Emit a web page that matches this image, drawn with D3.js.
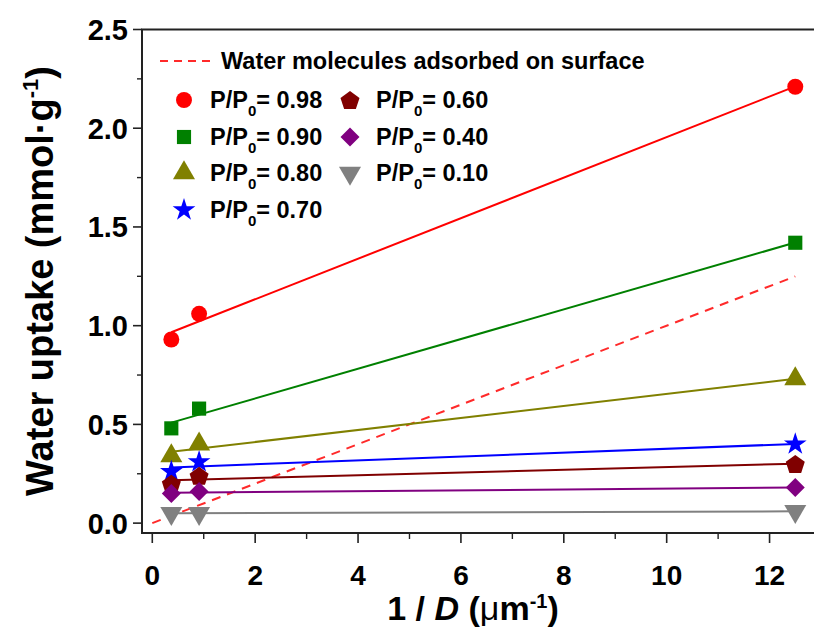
<!DOCTYPE html>
<html><head><meta charset="utf-8">
<script src="https://cdn.jsdelivr.net/npm/d3@7"></script>
<style>
html,body{margin:0;padding:0;background:#fff;}
text{font-family:"Liberation Sans",Arial,sans-serif;font-weight:bold;fill:#000;}
</style></head>
<body>
<svg id="c" width="814" height="628"></svg>
<script>
// ---- data ----
const xValues = [0.37, 0.91, 12.5];
const seriesLabels = ["0.98", "0.90", "0.80", "0.70", "0.60", "0.40", "0.10"];
const s098 = [0.93, 1.06, 2.21];
const s090 = [0.48, 0.58, 1.42];
const s080 = [0.34, 0.40, 0.73];
const s070 = [0.26, 0.31, 0.40];
const s060 = [0.20, 0.24, 0.30];
const s040 = [0.15, 0.16, 0.18];
const s010 = [0.05, 0.05, 0.06];
const surfaceLine = [[0, 0], [12.5, 1.25]];
const xTicks = [0, 2, 4, 6, 8, 10, 12];
const yTicks = [0.0, 0.5, 1.0, 1.5, 2.0, 2.5];

const seriesValues = [s098, s090, s080, s070, s060, s040, s010];
const colors = ["#ff0000", "#008000", "#808000", "#0000ff", "#800000", "#800080", "#808080"];
const shapes = ["circle", "square", "triangle", "star", "pentagon", "diamond", "triangleDown"];

const svg = d3.select("#c");
const x = d3.scaleLinear().domain([-0.2, 13]).range([142, 821]);
const y = d3.scaleLinear().domain([-0.05, 2.5]).range([533, 29.5]);

function symPath(shape) {
  if (shape === "circle") return d3.symbol(d3.symbolCircle, 200)();
  if (shape === "square") return d3.symbol(d3.symbolSquare, 200)();
  if (shape === "triangle" || shape === "triangleDown") return d3.symbol(d3.symbolTriangle, 210)();
  if (shape === "star") return d3.symbol(d3.symbolStar, 160)();
  if (shape === "diamond") { const r = 9.5; return `M0,${-r}L${r},0L0,${r}L${-r},0Z`; }
  if (shape === "pentagon") {
    const r = 10, pts = [];
    for (let i = 0; i < 5; i++) {
      const a = -Math.PI / 2 + i * 2 * Math.PI / 5;
      pts.push([r * Math.cos(a), r * Math.sin(a) + 1]);
    }
    return "M" + pts.map(p => p.join(",")).join("L") + "Z";
  }
}
function symTransform(shape, px, py) {
  return shape === "triangleDown" ? `translate(${px},${py}) rotate(180)` : `translate(${px},${py})`;
}

// least-squares fit of each series
function fit(xs, ys) {
  const n = xs.length, mx = d3.mean(xs), my = d3.mean(ys);
  let sxy = 0, sxx = 0;
  for (let i = 0; i < n; i++) { sxy += (xs[i] - mx) * (ys[i] - my); sxx += (xs[i] - mx) ** 2; }
  const b = sxy / sxx, a = my - b * mx;
  return v => a + b * v;
}

const line = d3.line().x(d => x(d[0])).y(d => y(d[1]));

// surface dashed line
svg.append("path").attr("d", line(surfaceLine)).attr("fill", "none")
  .attr("stroke", "#ff2a2a").attr("stroke-width", 2).attr("stroke-dasharray", "9,7");

// fit lines + points
seriesValues.forEach((vals, i) => {
  const f = fit(xValues, vals);
  const x0 = xValues[0], x1 = xValues[xValues.length - 1];
  svg.append("path").attr("d", line([[x0, f(x0)], [x1, f(x1)]]))
    .attr("fill", "none").attr("stroke", colors[i]).attr("stroke-width", 2);
});
seriesValues.forEach((vals, i) => {
  vals.forEach((v, j) => {
    svg.append("path").attr("d", symPath(shapes[i]))
      .attr("transform", symTransform(shapes[i], x(xValues[j]), y(v)))
      .attr("fill", colors[i]);
  });
});

// axes frame
const axCol = "#222";
svg.append("line").attr("x1", 142).attr("x2", 814).attr("y1", 533).attr("y2", 533).attr("stroke", axCol).attr("stroke-width", 2);
svg.append("line").attr("x1", 142).attr("x2", 142).attr("y1", 29.5).attr("y2", 534).attr("stroke", axCol).attr("stroke-width", 2);
svg.append("line").attr("x1", 141).attr("x2", 814).attr("y1", 29.5).attr("y2", 29.5).attr("stroke", axCol).attr("stroke-width", 2);

// x ticks
const xMinor = d3.range(1, 13, 2);
xTicks.forEach(t => {
  svg.append("line").attr("x1", x(t)).attr("x2", x(t)).attr("y1", 533).attr("y2", 543).attr("stroke", axCol).attr("stroke-width", 1.6);
  svg.append("text").attr("x", x(t)).attr("y", 585).attr("text-anchor", "middle").style("font-size", "28px").text(t);
});
xMinor.forEach(t => {
  svg.append("line").attr("x1", x(t)).attr("x2", x(t)).attr("y1", 533).attr("y2", 539).attr("stroke", axCol).attr("stroke-width", 1.4);
});
// y ticks
const yMinor = [0.25, 0.75, 1.25, 1.75, 2.25];
yTicks.forEach(t => {
  svg.append("line").attr("x1", 133).attr("x2", 142).attr("y1", y(t)).attr("y2", y(t)).attr("stroke", axCol).attr("stroke-width", 1.6);
  svg.append("text").attr("x", 128).attr("y", y(t) + 10.5).attr("text-anchor", "end").style("font-size", "29px").text(t.toFixed(1));
});
yMinor.forEach(t => {
  svg.append("line").attr("x1", 137).attr("x2", 142).attr("y1", y(t)).attr("y2", y(t)).attr("stroke", axCol).attr("stroke-width", 1.4);
});

// axis titles
const yt = svg.append("text").attr("transform", "translate(53,281) rotate(-90)").attr("text-anchor", "middle").style("font-size", "38px");
yt.append("tspan").text("Water uptake (mmol·g");
yt.append("tspan").attr("dy", -15).style("font-size", "22px").text("-1");
yt.append("tspan").attr("dy", 15).text(")");

const xt = svg.append("text").attr("x", 473).attr("y", 620).attr("text-anchor", "middle").style("font-size", "34px");
xt.append("tspan").text("1 / ");
xt.append("tspan").style("font-style", "italic").text("D");
xt.append("tspan").text(" (");
xt.append("tspan").style("font-weight", "normal").text("μ");
xt.append("tspan").text("m");
xt.append("tspan").attr("dy", -12).style("font-size", "20px").text("-1");
xt.append("tspan").attr("dy", 12).text(")");

// legend
svg.append("line").attr("x1", 160).attr("x2", 212).attr("y1", 61).attr("y2", 61)
  .attr("stroke", "#ff2a2a").attr("stroke-width", 2).attr("stroke-dasharray", "8,6");
svg.append("text").attr("x", 221).attr("y", 69).style("font-size", "23.5px").text("Water molecules adsorbed on surface");

const legPos = [[184, 100], [184, 137], [184, 173], [184, 210], [350, 100], [350, 137], [350, 173]];
seriesLabels.forEach((lab, i) => {
  const [lx, ly] = legPos[i];
  svg.append("path").attr("d", symPath(shapes[i])).attr("transform", symTransform(shapes[i], lx, ly)).attr("fill", colors[i]);
  const t = svg.append("text").attr("x", lx + 26).attr("y", ly + 8).style("font-size", "23.5px");
  t.append("tspan").text("P/P");
  t.append("tspan").attr("dy", 8).style("font-size", "15px").text("0");
  t.append("tspan").attr("dy", -8).text("= " + lab);
});
</script>
</body></html>
